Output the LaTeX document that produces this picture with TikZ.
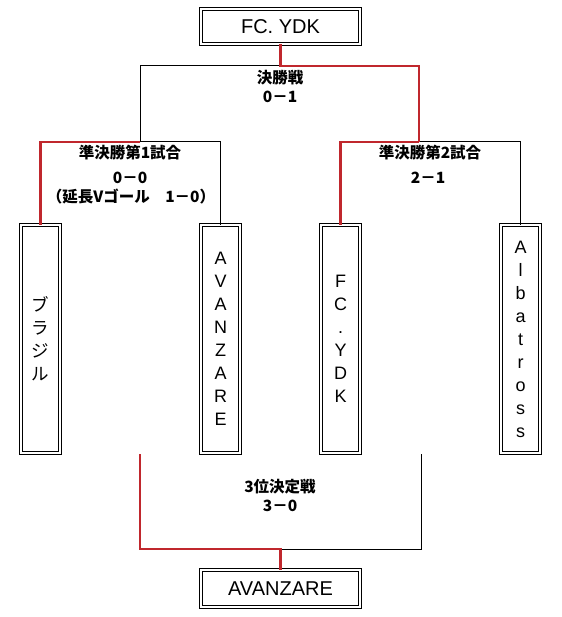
\documentclass[tikz,border=0pt]{standalone}
\usepackage{fontspec}
\setmainfont{Liberation Sans}
\newfontfamily\jp{Noto Sans CJK JP}
\definecolor{wincol}{RGB}{192,39,45}
\begin{document}
\begin{tikzpicture}[x=1pt,y=-1pt,
  dbox/.style={draw=black, double, double distance=2pt, line width=0.9pt, inner sep=0pt, align=center},
  hbox/.style={dbox, minimum width=159pt, minimum height=35pt, font=\fontsize{20}{24}\selectfont},
  vbox/.style={dbox, minimum width=39pt, minimum height=228pt, font=\fontsize{18}{23}\selectfont},
  win/.style={draw=wincol, line width=2.2pt},
  lose/.style={draw=black, line width=1pt},
  lbl/.style={anchor=base, inner sep=0pt, font=\jp\bfseries\fontsize{15.5}{18}\selectfont}
]
\useasboundingbox (0,0) rectangle (561,617);

% boxes
\node[hbox] (top) at (280.5,26.5) {FC. YDK};
\node[hbox, minimum height=37pt] (third) at (280.5,588.5) {AVANZARE};
\node[vbox, font=\jp\fontsize{17.5}{23}\selectfont] (bra) at (40.5,339) {ブ\\ラ\\ジ\\ル};
\node[vbox] (avz) at (220.5,339) {A\\V\\A\\N\\Z\\A\\R\\E};
\node[vbox] (ydk) at (340.5,339) {F\\C\\.\\Y\\D\\K};
\node[vbox] (alb) at (520.5,339) {A\\l\\b\\a\\t\\r\\o\\s\\s};

% junctions
\coordinate (f) at (280.5,66);
\coordinate (s1) at (140,142);
\coordinate (s2) at (419,142);
\coordinate (t) at (280.5,549);
\coordinate (tL) at (140,454);
\coordinate (tR) at (421,454);

% connectors
\draw[lose] (s1) -| (avz.north);
\draw[lose] (s2) -| (alb.north);
\draw[lose] (f) -| (s1);
\draw[lose] (t) -| (tR);
\draw[win] (s1) -| (bra.north);
\draw[win] (top.south) -- (f) -| (s2);
\draw[win] (s2) -| (ydk.north);
\draw[win] (tL) |- (t) -- (third.north);

% labels
\node[lbl] (l1) at (280,84) {決勝戦};
\node[lbl] (l2) at (280,103) {0－1};
\node[lbl] (l3) at (130,159) {準決勝第1試合};
\node[lbl] (l4) at (130,184) {0－0};
\node[lbl] (l5) at (131,203) {（延長Vゴール　1－0）};
\node[lbl] (l6) at (430,159) {準決勝第2試合};
\node[lbl] (l7) at (428,184) {2－1};
\node[lbl] (l8) at (280,492) {3位決定戦};
\node[lbl] (l9) at (280,511) {3－0};
\end{tikzpicture}
\end{document}
